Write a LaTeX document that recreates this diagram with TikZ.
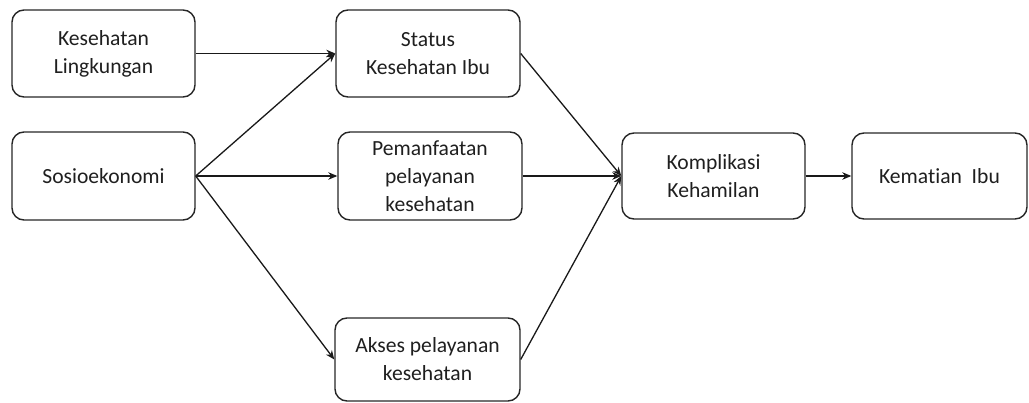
\documentclass[tikz,border=0pt]{standalone}
\usepackage{fontspec}
\setmainfont[Ligatures={NoCommon}]{Carlito}
\usetikzlibrary{arrows.meta}
\begin{document}
\begin{tikzpicture}[x=1pt,y=-1pt,
  box/.style={draw=black!85, line width=1.4pt, rounded corners=12pt, align=center,
    inner sep=0pt, font=\fontsize{21.6}{28}\selectfont, text=black!88},
  conn/.style={draw=black!90, line width=1.3pt, -{Stealth[length=9pt,width=7.5pt]}}]
\useasboundingbox (0,0) rectangle (1029,403);
\node[box, minimum width=183pt, minimum height=87pt] (kl) at (103.5,53.5) {Kesehatan\\Lingkungan};
\node[box, minimum width=183pt, minimum height=88pt] (so) at (103.5,176) {Sosioekonomi};
\node[box, minimum width=184pt, minimum height=87pt] (st) at (428,53.5) {Status\\Kesehatan Ibu};
\node[box, minimum width=184pt, minimum height=88pt] (pm) at (430,176) {Pemanfaatan\\pelayanan\\kesehatan};
\node[box, minimum width=185pt, minimum height=83pt] (ak) at (427.5,359.5) {Akses pelayanan\\kesehatan};
\node[box, minimum width=183pt, minimum height=86pt] (ko) at (713.5,176) {Komplikasi\\Kehamilan};
\node[box, minimum width=175pt, minimum height=86pt] (km) at (939.5,176) {Kematian\ \ Ibu};
\draw[conn] (kl.east) -- (st.west);
\draw[conn] (so.east) -- (st.west);
\draw[conn] (so.east) -- (pm.west);
\draw[conn] (so.east) -- (ak.west);
\draw[conn] (st.east) -- (ko.west);
\draw[conn] (pm.east) -- (ko.west);
\draw[conn] (ak.east) -- (ko.west);
\draw[conn] (ko.east) -- (km.west);
\end{tikzpicture}
\end{document}
